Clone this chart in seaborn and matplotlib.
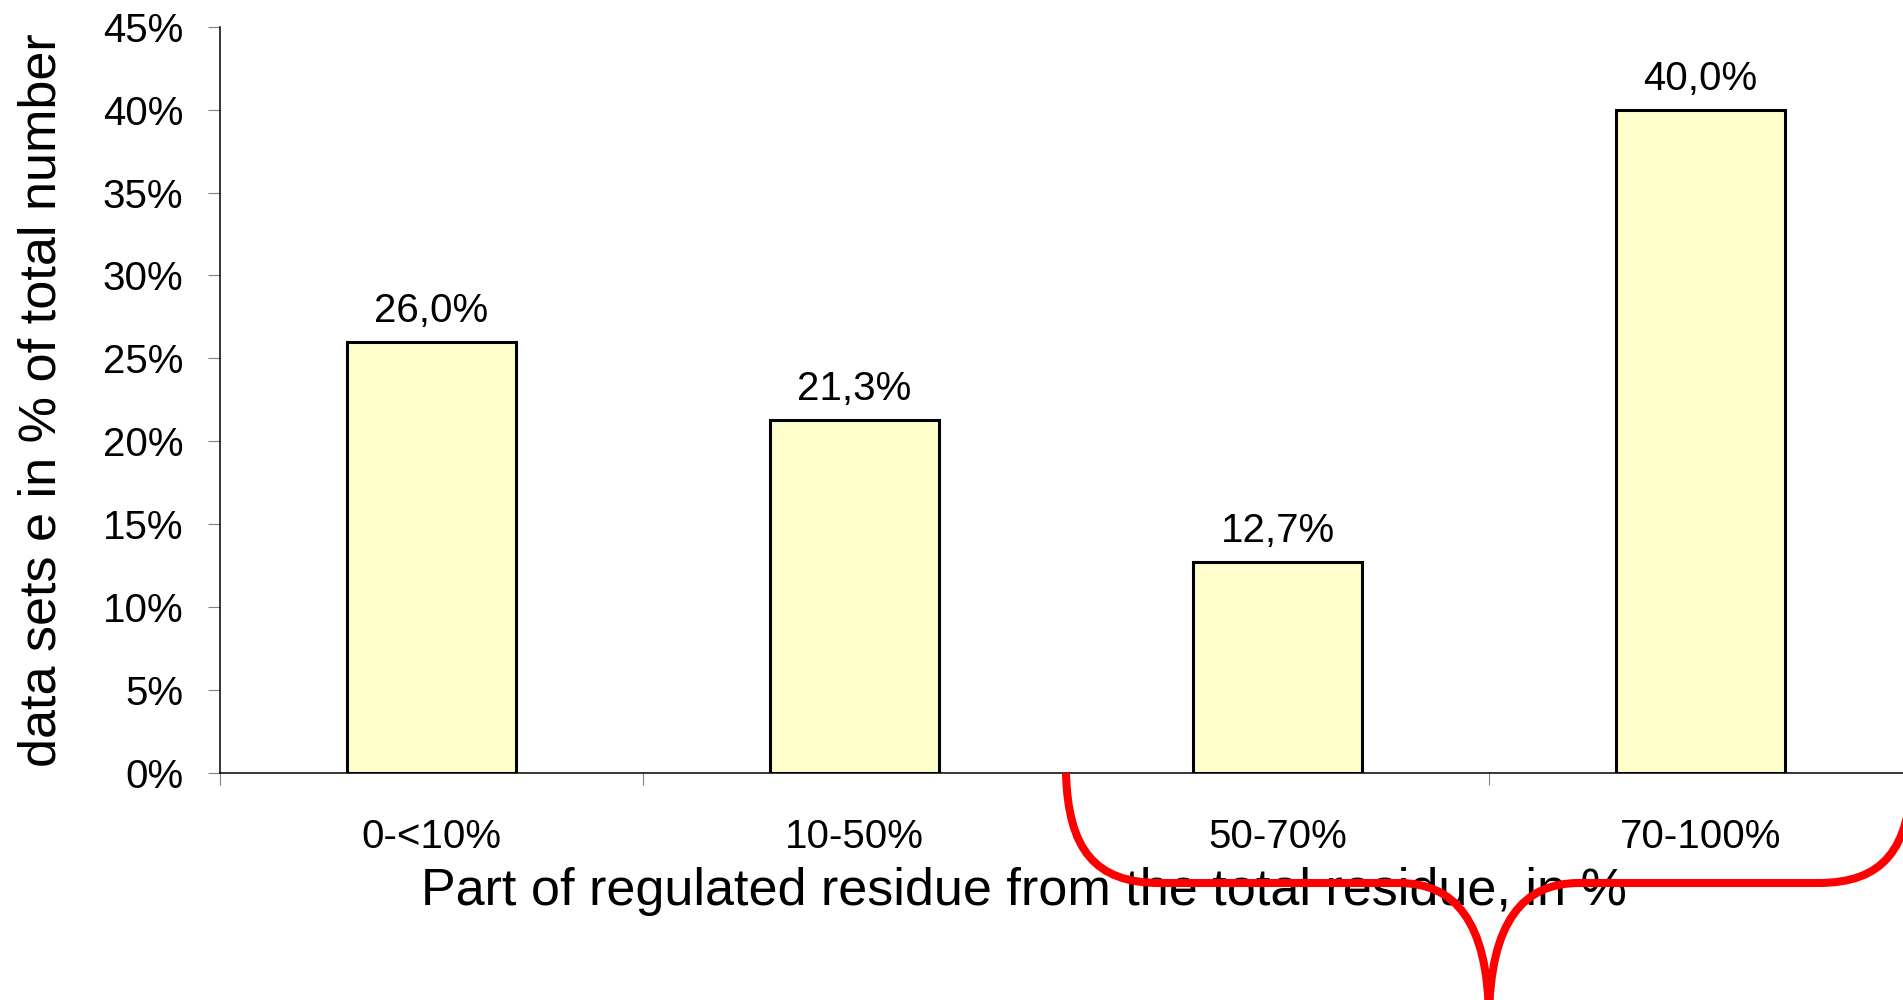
import matplotlib
matplotlib.use("Agg")
import matplotlib.pyplot as plt
from matplotlib.path import Path
from matplotlib.patches import PathPatch
from matplotlib.transforms import blended_transform_factory
import seaborn as sns
import pandas as pd

# Share of data sets per range of regulated residue
categories = ["0-<10%", "10-50%", "50-70%", "70-100%"]
shares = [26.0, 21.3, 12.7, 40.0]
y_ticks = [0, 5, 10, 15, 20, 25, 30, 35, 40, 45]
x_title = "Part of regulated residue from the total residue, in %"
y_title = "data sets e in % of total number"

sns.set_theme(style="white")
plt.rcParams["font.family"] = ["Liberation Sans", "DejaVu Sans"]

W, H = 1903, 1000
fig = plt.figure(figsize=(W / 100, H / 100), dpi=100)
fig.patch.set_facecolor("white")
ax = fig.add_axes([220 / W, 0.227, 1692 / W, 0.7463])

df = pd.DataFrame({"range": categories, "share": shares})
sns.barplot(data=df, x="range", y="share", ax=ax, width=0.4,
            color="#FFFFCC", saturation=1, edgecolor="black",
            linewidth=2.2, errorbar=None)

# value labels above the bars, decimal comma
for i, v in enumerate(shares):
    ax.annotate(f"{v:.1f}".replace(".", ",") + "%", xy=(i, v),
                xytext=(0, 14.4), textcoords="offset points",
                ha="center", va="baseline", fontsize=29, color="black")

ax.set_xlim(-0.5, 3.5)
ax.set_ylim(0, 45)
ax.set_yticks(y_ticks)
ax.set_yticklabels([f"{t}%" for t in y_ticks])
ax.set_xticks(range(len(categories)))
ax.set_xticklabels(categories)
ax.set_xticks([i - 0.5 for i in range(len(categories) + 1)], minor=True)

ax.tick_params(axis="x", which="major", bottom=True, length=0, pad=32.4,
               labelsize=29, labelcolor="black")
ax.tick_params(axis="x", which="minor", bottom=True, length=8.6, width=0.8,
               color="#808080", direction="out")
ax.tick_params(axis="y", which="major", left=True, length=8.6, width=0.8,
               color="#808080", direction="out", pad=18, labelsize=29,
               labelcolor="black")

for side in ("top", "right"):
    ax.spines[side].set_visible(False)
for side in ("left", "bottom"):
    ax.spines[side].set_color("black")
    ax.spines[side].set_linewidth(1.1)
ax.grid(False)

ax.set_ylabel(y_title, fontsize=37.5, color="black")
ax.yaxis.set_label_coords(-0.091, 0.5)
ax.set_xlabel(x_title, fontsize=37.5, color="black")
ax.xaxis.set_label_coords(0.4752, -0.126)

# red curly brace grouping the two upper ranges (x in categories, y in axes units)
trans = blended_transform_factory(ax.transData, ax.transAxes)
x0, xm, x1 = 1.5, 2.5, 3.5
yb, ytip = -0.1474, -0.33
left = [(x0, 0.0), (x0 + 0.005, -0.103), (x0 + 0.069, yb), (x0 + 0.222, yb),
        (xm - 0.213, yb),
        (xm - 0.083, yb), (xm - 0.002, -0.197), (xm, ytip)]
right = [(xm, ytip), (xm + 0.002, -0.197), (xm + 0.083, yb), (xm + 0.213, yb),
         (x1 - 0.222, yb),
         (x1 - 0.069, yb), (x1 - 0.005, -0.103), (x1, 0.0)]
codes = [Path.MOVETO, Path.CURVE4, Path.CURVE4, Path.CURVE4, Path.LINETO,
         Path.CURVE4, Path.CURVE4, Path.CURVE4]
verts = left + right[1:]
codes_all = codes + [Path.CURVE4, Path.CURVE4, Path.CURVE4, Path.LINETO,
                     Path.CURVE4, Path.CURVE4, Path.CURVE4]
brace = PathPatch(Path(verts, codes_all), facecolor="none", edgecolor="#FF0000",
                  linewidth=5.8, transform=trans, clip_on=False, zorder=10,
                  capstyle="butt", joinstyle="round")
ax.add_patch(brace)

fig.savefig("out.png", dpi=100)
